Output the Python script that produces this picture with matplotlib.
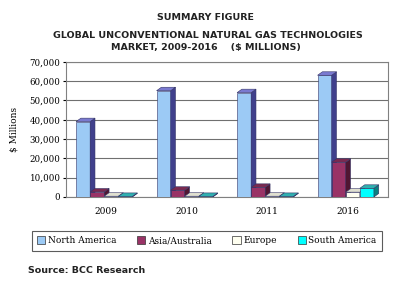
import matplotlib
matplotlib.use("Agg")
import matplotlib.pyplot as plt
from matplotlib.patches import Polygon, Patch

years = ["2009", "2010", "2011", "2016"]
regions = ["North America", "Asia/Australia", "Europe", "South America"]
north_america = [39000, 55000, 54000, 63000]
asia_australia = [2600, 3500, 5000, 18000]
europe = [400, 400, 400, 2500]
south_america = [300, 300, 300, 4500]
series = [north_america, asia_australia, europe, south_america]

front = ["#9ccaf5", "#993366", "#fffff0", "#00ffff"]
side = ["#40408c", "#501632", "#c0c0a8", "#0a8080"]
top = ["#7a7ad0", "#7a2a50", "#e0e0d0", "#30b0b0"]

serif = "DejaVu Serif"

fig = plt.figure(figsize=(4.0, 2.94), dpi=100)
ax = fig.add_axes([0.165, 0.33, 0.805, 0.46])

width = 0.175
dx, dy = 0.06, 1800
for i, vals in enumerate(series):
    for j, h in enumerate(vals):
        x0 = j - 0.375 + i * width
        ax.bar(x0, h, width, align="edge", color=front[i], edgecolor="#333366",
               linewidth=0.4, zorder=3)
        ax.add_patch(Polygon([(x0 + width, 0), (x0 + width + dx, dy),
                              (x0 + width + dx, h + dy), (x0 + width, h)],
                             closed=True, facecolor=side[i], edgecolor="#333366",
                             linewidth=0.4, zorder=3))
        ax.add_patch(Polygon([(x0, h), (x0 + dx, h + dy),
                              (x0 + width + dx, h + dy), (x0 + width, h)],
                             closed=True, facecolor=top[i], edgecolor="#333366",
                             linewidth=0.4, zorder=3))

ax.set_xlim(-0.5, 3.5)
ax.set_ylim(0, 70000)
ax.set_yticks(range(0, 70001, 10000))
ax.set_yticklabels([f"{v:,}" for v in range(0, 70001, 10000)],
                   fontsize=6.2, family=serif)
ax.set_xticks(range(len(years)))
ax.set_xticklabels(years, fontsize=6.5, family=serif)
ax.tick_params(axis="x", length=0, pad=7)
ax.tick_params(axis="y", length=2, pad=2)
ax.grid(axis="y", color="#707070", linewidth=0.8, zorder=0)
for s in ax.spines.values():
    s.set_color("#808080")
    s.set_linewidth(0.8)
ax.set_ylabel("$ Millions", fontsize=6.5, family=serif, labelpad=8)

fig.text(0.513, 0.932, "SUMMARY FIGURE", ha="center", fontsize=6.8,
         fontweight="bold", color="#222222")
fig.text(0.52, 0.871, "GLOBAL UNCONVENTIONAL NATURAL GAS TECHNOLOGIES",
         ha="center", fontsize=6.8, fontweight="bold", color="#222222")
fig.text(0.515, 0.83, "MARKET, 2009-2016    ($ MILLIONS)", ha="center",
         fontsize=6.8, fontweight="bold", color="#222222")

handles = [Patch(facecolor=front[i], edgecolor="#333333", linewidth=0.5)
           for i in range(len(regions))]
leg = fig.legend(handles, regions, ncol=4, loc="center",
                 bbox_to_anchor=(0.517, 0.181),
                 prop={"family": serif, "size": 6.5}, frameon=True,
                 fancybox=False, handlelength=0.9, handleheight=0.9,
                 handletextpad=0.3, columnspacing=2.3, borderpad=0.6)
leg.get_frame().set_edgecolor("#333333")
leg.get_frame().set_linewidth(0.8)

fig.text(0.07, 0.07, "Source: BCC Research", fontsize=6.8, fontweight="bold",
         color="#222222")

fig.savefig("out.png", dpi=100)
